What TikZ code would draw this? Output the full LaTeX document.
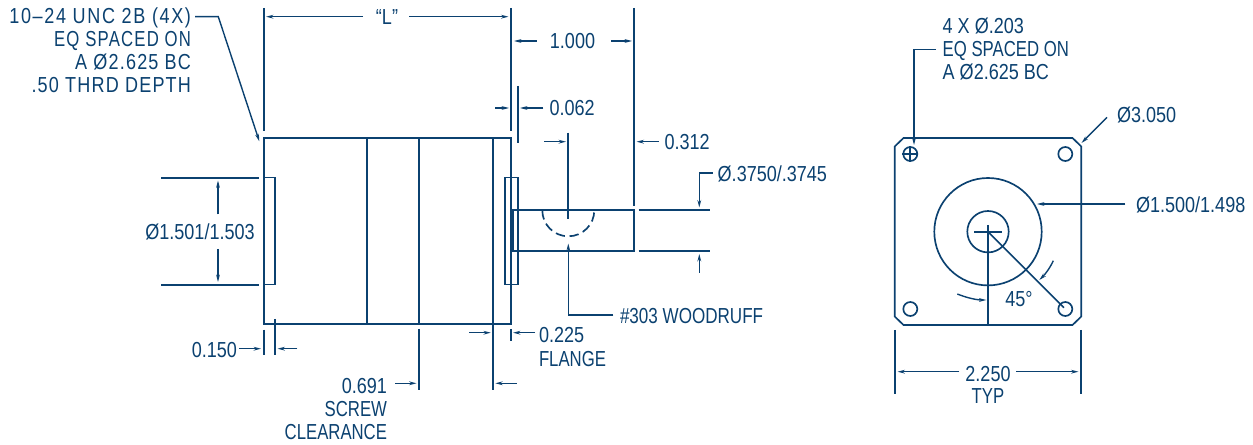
\documentclass[tikz,border=0pt]{standalone}
\usepackage{fontspec}
\setmainfont[FakeStretch=0.83]{Liberation Sans}
\newfontfamily\trk[FakeStretch=0.83,LetterSpace=5.5]{Liberation Sans}
\newfontfamily\trkw[FakeStretch=0.83,LetterSpace=7.5]{Liberation Sans}
\newfontfamily\up[FakeStretch=0.77]{Liberation Sans}
\newfontfamily\upw[FakeStretch=0.785]{Liberation Sans}
\newfontfamily\trkn[FakeStretch=0.77,LetterSpace=5.5]{Liberation Sans}
\usetikzlibrary{arrows.meta}
\definecolor{ink}{HTML}{0B4170}
\tikzset{
  ln/.style={draw=ink,line width=1.25pt},
  hv/.style={draw=ink,line width=1.6pt},
  ar/.style={draw=ink,line width=1.05pt,-{Stealth[length=5.5pt,width=2.8pt]}},
  lb/.style={inner sep=0pt,outer sep=0pt,text=ink,font=\fontsize{16.3}{18}\selectfont},
  lw/.style={lb,anchor=base west},
  le/.style={lb,anchor=base east},
  lc/.style={lb,anchor=base},
}
\begin{document}
\begin{tikzpicture}[x=0.75pt,y=-0.75pt]
\useasboundingbox (0,0) rectangle (1253,445);
% ---- side view: body
\draw[ln] (263.7,138) rectangle (511,324);
\draw[ln] (367.3,138) -- (367.3,324) (418.7,138) -- (418.7,324) (493.3,138) -- (493.3,324);
\draw[hv] (367.3,138) -- (493.3,138) (367.3,324) -- (493.3,324) (263.7,177.5) -- (263.7,284.5);
\draw[ln] (263.7,177.5) -- (275,177.5) -- (275,284.5) -- (263.7,284.5);
\draw[ln] (504.7,177.5) rectangle (518,284.5);
\draw[ln] (513.3,210.3) rectangle (634,251.3);
\draw[ln,dashed,dash pattern=on 7pt off 3.5pt] (542.3,210.3) arc[start angle=180,end angle=0,radius=26];
% shaft extension lines
\draw[ln] (638.7,210.3) -- (710,210.3) (638.7,251.3) -- (710,251.3);
\draw[ar] (712.7,173) -- (699.3,173) -- (699.3,207.5);
\draw[ar] (699.3,273) -- (699.3,254);
\node[lw] (d3750) at (717.7,182) {Ø.3750/.3745};
% key
\draw[ln] (568.3,132.7) -- (568.3,218.7);
\draw[ar] (544,141.7) -- (566,141.7);
\draw[ln] (634,8) -- (634,206);
\draw[ar] (658.7,141.7) -- (636.5,141.7);
\node[lw] (d312) at (664.5,150) {0.312};
\draw[ar] (613.3,315) -- (568.3,315) -- (568.3,243.5);
\node[lw] (wood) at (620,324) {\upw\#303 WOODRUFF};
% 1.000
\draw[ln] (511,8) -- (511,130.7);
\draw[ar] (536.7,41) -- (514,41);
\draw[ar] (611,41) -- (632,41);
\node[lc] (d1000) at (572.5,49) {1.000};
% 0.062
\draw[ln] (517.7,86) -- (517.7,143);
\draw[ar] (495,108) -- (509,108);
\draw[ar] (543.3,108) -- (520,108);
\node[lw] (d062) at (549.5,116) {0.062};
% L
\draw[ln] (263.7,8) -- (263.7,130.6);
\draw[ar] (363,16.7) -- (266,16.7);
\draw[ar] (409,16.7) -- (508.5,16.7);
\node[lc] (dL) at (387,24.5) {“L”};
% callout
\node[le] (c1) at (191,24) {\trkw 10–24 UNC 2B (4X)};
\node[le] (c2) at (191,47) {\trkn EQ SPACED ON};
\node[le] (c3) at (191,70) {\trk A Ø2.625 BC};
\node[le] (c4) at (191,93) {\trk .50 THRD DEPTH};
\draw[ar] (195,16.7) -- (218.3,16.7) -- (259.3,141.3);
% pilot dia
\draw[ln] (161.3,177.7) -- (259,177.7) (161.3,284.7) -- (259,284.7);
\draw[ar] (218,214.3) -- (218,180.5);
\draw[ar] (218,249) -- (218,282);
\node[lc] (d1501) at (200,240) {Ø1.501/1.503};
% 0.150
\draw[ln] (263.7,329.7) -- (263.7,355) (275,319) -- (275,355);
\draw[ar] (239.3,348.7) -- (261,348.7);
\draw[ar] (297.3,348.7) -- (277.5,348.7);
\node[le] (d150) at (237,358) {0.150};
% 0.225
\draw[ln] (493.3,324) -- (493.3,390) (510.7,329) -- (510.7,340.7);
\draw[ar] (469.3,332.7) -- (490.8,332.7);
\draw[ar] (535,332.7) -- (513,332.7);
\node[lw] (d225) at (539,343) {0.225};
\node[lw] (flange) at (539,366) {\up FLANGE};
% 0.691
\draw[ln] (418.7,329) -- (418.7,390);
\draw[ar] (395,383.3) -- (416.5,383.3);
\draw[ar] (516.7,383.3) -- (495.3,383.3);
\node[le] (d691) at (387,393) {0.691};
\node[le] (screw) at (387,416) {\up SCREW};
\node[le] (clear) at (387,439) {\up CLEARANCE};
% ---- end view
\draw[ln] (903.5,138) -- (1072.5,138) -- (1081.3,146.5) -- (1081.3,316.5) -- (1072.5,325) -- (903.5,325) -- (894.7,316.5) -- (894.7,146.5) -- cycle;
\draw[hv] (903.5,325) -- (1072.5,325);
\foreach \hx/\hy in {910.3/154,1065.3/154,910.3/309,1065.3/309}
  \draw[ln] (\hx,\hy) circle[radius=7];
\draw[ln] (902.3,154) -- (918.3,154) (910.3,146) -- (910.3,162);
\draw[ln] (988,231.7) circle[radius=53.7];
\draw[ln] (988,231.7) circle[radius=20.7];
\draw[ln] (974.3,231.7) -- (1001.7,231.7) (988,225) -- (988,231.7);
\draw[hv] (988,231.7) -- (988,325);
\draw[ln] (988,231.7) -- (1064,307.7);
\draw[ar] (957.3,294) .. controls (966,297.5) and (976,300) .. (986.3,300);
\draw[ar] (1053.3,260.7) .. controls (1050,268) and (1045,274.5) .. (1039.3,280);
\node[lc] (ang) at (1019,306) {45°};
% 2.250
\draw[ln] (894.7,330) -- (894.7,394) (1081.3,330) -- (1081.3,394);
\draw[ar] (959.3,371.7) -- (897.5,371.7);
\draw[ar] (1016,371.7) -- (1078.5,371.7);
\node[lc] (d2250) at (988,381) {2.250};
\node[lc] (typ) at (988,403.5) {\up TYP};
% notes
\node[lw] (n1) at (942.7,34) {4 X Ø.203};
\node[lw] (n2) at (942.7,57) {\up EQ SPACED ON};
\node[lw] (n3) at (942.7,80) {A Ø2.625 BC};
\draw[ar] (936,49.5) -- (914,49.5) -- (914,145);
\node[lw] (d3050) at (1117,123) {Ø3.050};
\draw[ar] (1107,117.3) -- (1081.5,143);
\node[lw] (d1500) at (1136,213) {Ø1.500/1.498};
\draw[ar] (1125.3,204) -- (1037,204);
\end{tikzpicture}
\end{document}
